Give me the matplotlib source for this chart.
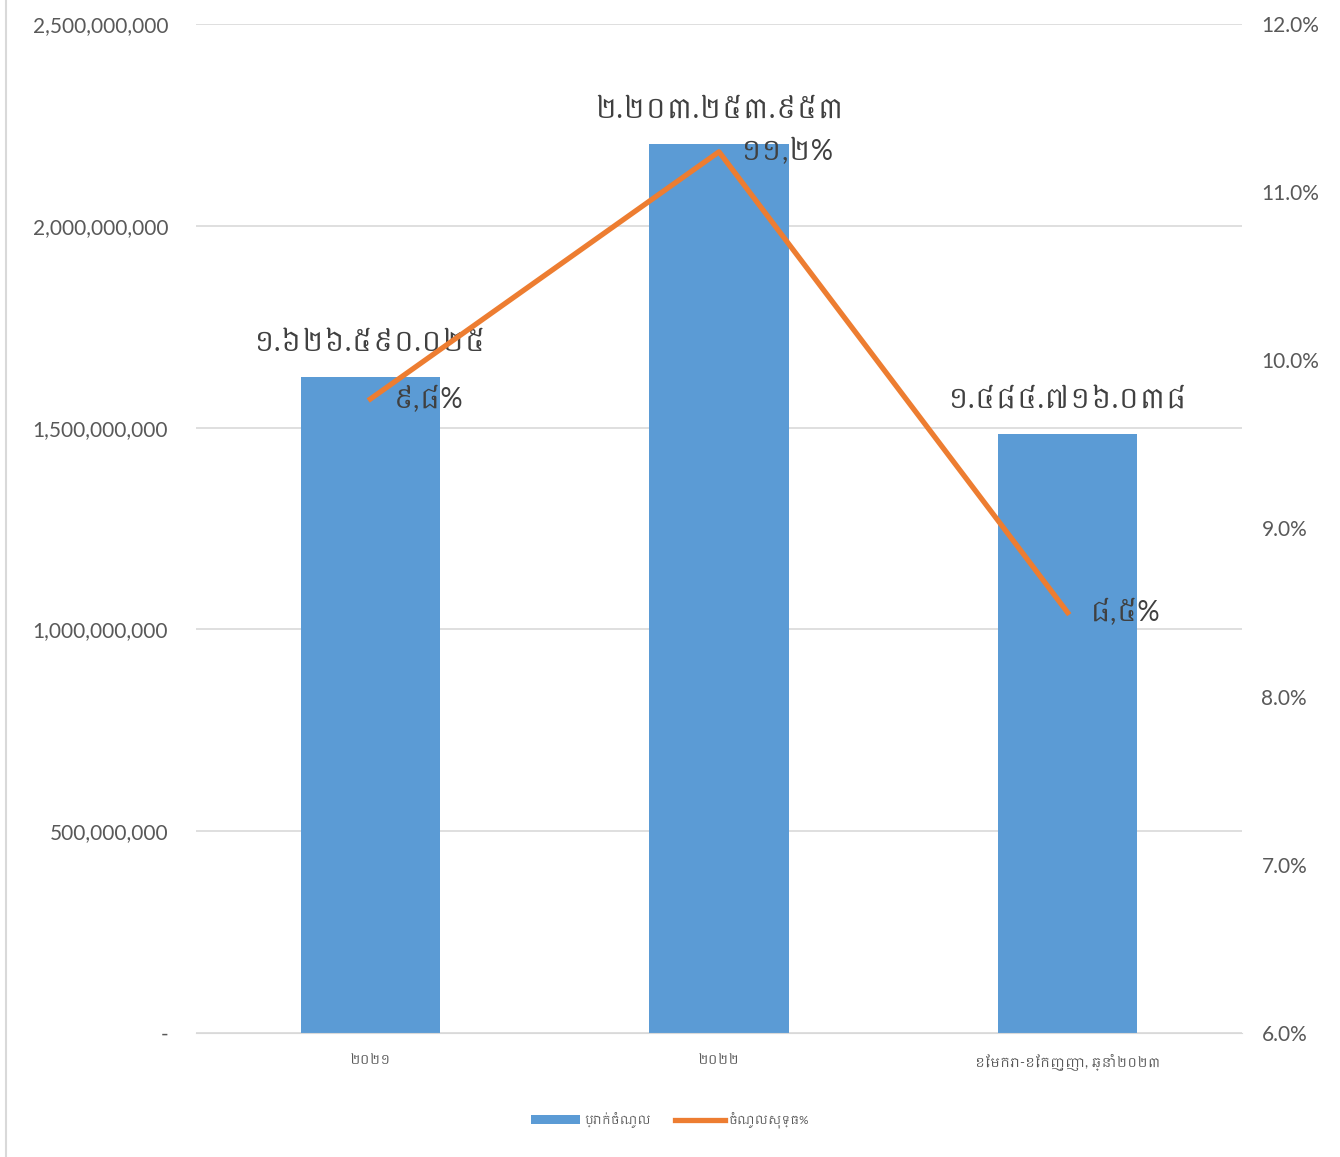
import matplotlib
matplotlib.use('Agg')
import matplotlib.pyplot as plt
from matplotlib import font_manager
from matplotlib.ticker import FuncFormatter, FixedLocator
from matplotlib.ft2font import FT2Font

categories = ['២០២១', '២០២២', 'ខែមករា-ខែកញ្ញា, ឆ្នាំ២០២៣']
revenue = [1626590025, 2203253953, 1484716038]
growth = [0.0977, 0.1124, 0.085]
revenue_labels = ['១.៦២៦.៥៩០.០២៥', '២.២០៣.២៥៣.៩៥៣', '១.៤៨៤.៧១៦.០៣៨']
growth_labels = ['៩,៨%', '១១,២%', '៨,៥%']
legend_labels = ['ប្រាក់ចំណូល', 'ចំណូលសុទ្ធ%']

# look for any installed font that has khmer digits, proportional ones first
khmer = []
for f in font_manager.fontManager.ttflist:
    try:
        if 0x17E1 in FT2Font(f.fname).get_charmap():
            if f.name not in khmer:
                khmer.append(f.name)
    except Exception:
        pass
khmer.sort(key=lambda n: (0 if 'Khmer' in n else 1, 1 if 'Mono' in n else 0))
plt.rcParams['font.family'] = ['Lato'] + khmer + ['DejaVu Sans']

blue = '#5B9BD5'
orange = '#ED7D31'
grey = '#595959'

fig = plt.figure(figsize=(13.4, 11.57), dpi=100)
ax = fig.add_axes([196/1340, 1 - 1033/1157, (1242-196)/1340, (1033-24)/1157])
ax2 = ax.twinx()

x = list(range(len(categories)))
ax.bar(x, revenue, width=0.4, color=blue, zorder=2, label=legend_labels[0])
ax.set_xlim(-0.5, 2.5)
ax.set_ylim(0, 2.5e9)
ax.yaxis.set_major_locator(FixedLocator([i * 5e8 for i in range(6)]))
ax.yaxis.set_major_formatter(FuncFormatter(lambda v, p: '-' if v == 0 else f'{v:,.0f}'))
ax.grid(axis='y', color='#D9D9D9', linewidth=1.2, zorder=0)
ax.set_axisbelow(True)

ax2.plot(x, growth, color=orange, linewidth=3.8, zorder=3, label=legend_labels[1])
ax2.set_ylim(0.06, 0.12)
ax2.yaxis.set_major_locator(FixedLocator([0.06 + 0.01 * i for i in range(7)]))
ax2.yaxis.set_major_formatter(FuncFormatter(lambda v, p: f'{v*100:.1f}%'))

for a in (ax, ax2):
    for s in a.spines.values():
        s.set_visible(False)
    a.tick_params(length=0, labelsize=15, labelcolor=grey)
ax.spines['bottom'].set_visible(True)
ax.spines['bottom'].set_color('#D9D9D9')
ax.tick_params(axis='y', pad=20)
ax2.tick_params(axis='y', pad=14)

ax.set_xticks(x)
ax.set_xticklabels(categories, fontsize=9.5, color=grey)
ax.tick_params(axis='x', pad=15)

for i in x:
    ax.annotate(revenue_labels[i], (x[i], revenue[i]), xytext=(0, 15), textcoords='offset points',
                ha='center', va='bottom', fontsize=20, color='#404040')
    ax2.annotate(growth_labels[i], (x[i], growth[i]), xytext=(16, 0), textcoords='offset points',
                 ha='left', va='center', fontsize=20, color='#404040', zorder=5)

h1, l1 = ax.get_legend_handles_labels()
h2, l2 = ax2.get_legend_handles_labels()
fig.legend(h1 + h2, l1 + l2, loc='center', bbox_to_anchor=(0.5, 1 - 1120/1157), ncol=2,
           frameon=False, fontsize=8.5, labelcolor=grey, handlelength=4.2,
           handletextpad=0.35, columnspacing=2.0)

fig.add_artist(plt.Line2D([6/1340, 6/1340], [0, 1], color='#D9D9D9', linewidth=1.5))

fig.savefig('out.png', dpi=100)
